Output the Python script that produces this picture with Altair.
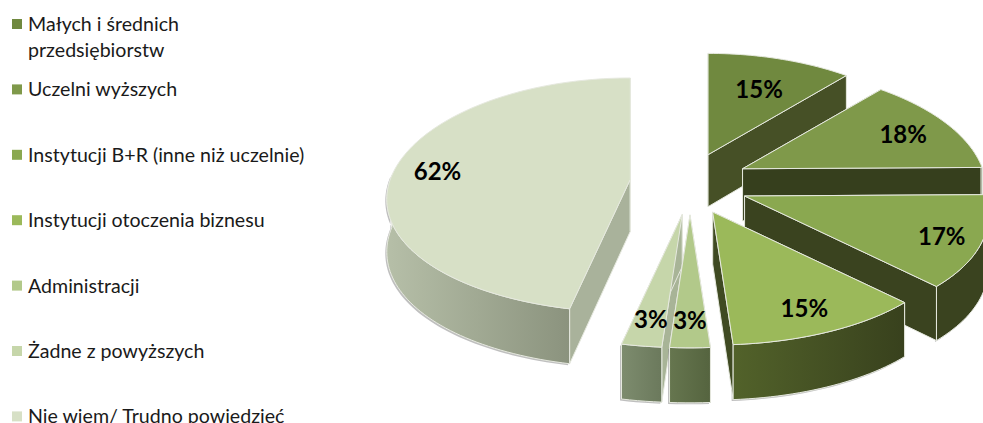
import math
import altair as alt

# Survey answers and their percentages (multiple choice, so they sum past 100)
CATEGORIES = [
    "Małych i średnich\nprzedsiębiorstw",
    "Uczelni wyższych",
    "Instytucji B+R (inne niż uczelnie)",
    "Instytucji otoczenia biznesu",
    "Administracji",
    "Żadne z powyższych",
    "Nie wiem/ Trudno powiedzieć",
]
VALUES = [15, 18, 17, 15, 3, 3, 62]

# Per-slice styling
TOP_COLORS = ["#70893f", "#7f994a", "#8aa850", "#9bb95a", "#b2c98a", "#c6d6aa", "#d7e0c6"]
LEGEND_COLORS = ["#70893f", "#7f994a", "#8aa850", "#9bb95a", "#b2c98a", "#c6d6aa", "#d7e0c6"]
CUT_COLORS = ["#465026", "#363f1d", "#3a431f", "#3f4a22", "#66764f", "#a8b497", "#a9b29b"]
RIM_STOPS = [
    ("#465026", "#465026"),
    ("#363f1d", "#363f1d"),
    ("#3a431f", "#3a431f"),
    ("#52622a", "#38411d"),
    ("#66764f", "#55643f"),
    ("#7d8c6e", "#6b795c"),
    ("#b6bfa8", "#8b937e"),
]
EXPLODE = [52, 58, 59, 55, 55, 55, 60]
LABEL_RADIUS = [0.68, 0.78, 0.84, 0.81, 0.80, 0.80, 0.82]

# Projection of the tilted pie onto the page
W, H = 983, 423
CX, CY = 690, 183
RADIUS_X, RADIUS_Y = 240, 115
PERSPECTIVE_X, PERSPECTIVE_Y = 0.17, 0.135
EXPLODE_Y = 0.58
THICKNESS = 52
LABEL_DROP = 4
EDGE = "#e6e9df"
PROJECTION = dict(type="identity", scale=1, translate=[0, 0])

total = sum(VALUES)
bounds = [0.0]
for v in VALUES:
    bounds.append(bounds[-1] + v / total * 360)


def rim_offset(angle, r=1.0):
    a = math.radians(angle)
    wx = 1 + PERSPECTIVE_X * r * math.cos(a)
    wy = 1 + PERSPECTIVE_Y * r * math.cos(a)
    return r * RADIUS_X * math.sin(a) / wx, -r * RADIUS_Y * math.cos(a) / wy


def apex(i):
    m = math.radians((bounds[i] + bounds[i + 1]) / 2)
    return (CX + EXPLODE[i] * math.sin(m), CY - EXPLODE[i] * EXPLODE_Y * math.cos(m))


def top_point(i, angle, r=1.0):
    ax, ay = apex(i)
    dx, dy = rim_offset(angle, r)
    return ax + dx, ay + dy


def drop(p, angle):
    return p[0], p[1] + THICKNESS - 3 * math.cos(math.radians(angle))


def arc_angles(a0, a1):
    n = max(2, int((a1 - a0) / 1.5))
    return [a0 + (a1 - a0) * k / n for k in range(n + 1)]


def polygon(points, fill, stroke=EDGE, width=1.0, opacity=1.0):
    ring = [list(p) for p in points] + [list(points[0])]
    feature = {
        "type": "Feature",
        "properties": {},
        "geometry": {"type": "Polygon", "coordinates": [ring]},
    }
    kw = dict(fill=fill, fillOpacity=opacity)
    if stroke:
        kw.update(stroke=stroke, strokeWidth=width)
    else:
        kw.update(strokeWidth=0)
    return alt.Chart(alt.InlineData(values=[feature])).mark_geoshape(**kw).project(**PROJECTION)


def gradient(c0, c1):
    return alt.LinearGradient(
        gradient="linear",
        x1=0, x2=1, y1=0, y2=0,
        stops=[alt.GradientStop(color=c0, offset=0), alt.GradientStop(color=c1, offset=1)],
    )


def slice_layers(i):
    a0, a1 = bounds[i], bounds[i + 1]
    ap = apex(i)
    layers = []
    rim_from, rim_to = max(a0, 88), min(a1, 272)
    rim_pts = None
    if rim_to > rim_from:
        angles = arc_angles(rim_from, rim_to)
        upper = [top_point(i, a) for a in angles]
        lower = [drop(p, a) for p, a in zip(upper, angles)]
        rim_pts = upper + lower[::-1]
        # soft contact shadow under the front wall
        shadow = [(x - 1.5, y + 1.5) for x, y in rim_pts]
        layers.append(polygon(shadow, "#8a8a8a", stroke=None, opacity=0.55))
    for a in (a0, a1):
        c = top_point(i, a)
        face = [ap, c, drop(c, a), drop(ap, 90)]
        if i in (0, 6) and a in (0.0, bounds[7]):
            layers.append(polygon([(x + 1, y + 1) for x, y in face], "#9a9a9a", stroke=None))
        layers.append(polygon(face, CUT_COLORS[i]))
    if rim_pts:
        layers.append(polygon(rim_pts, gradient(*RIM_STOPS[i])))
    outline = [ap] + [top_point(i, a) for a in arc_angles(a0, a1)]
    layers.append(polygon(outline, TOP_COLORS[i]))
    return layers


layers = []
for i in (0, 1, 2, 6, 5, 4, 3):
    layers.extend(slice_layers(i))

# Percentage labels sit inside each top face
percent_rows = []
for i, v in enumerate(VALUES):
    mid = (bounds[i] + bounds[i + 1]) / 2
    x, y = top_point(i, mid, LABEL_RADIUS[i])
    percent_rows.append({"lon": x, "lat": y + LABEL_DROP, "label": f"{v}%"})
layers.append(
    alt.Chart(alt.InlineData(values=percent_rows))
    .mark_text(font="Lato", fontSize=24, fontWeight="bold", color="#000000")
    .encode(longitude="lon:Q", latitude="lat:Q", text="label:N")
    .project(**PROJECTION)
)

# Legend column down the left side
ROW_START, ROW_STEP = 24, 65.4
legend_rows = [
    {"lon": 17, "lat": ROW_START + k * ROW_STEP, "txt_lon": 28, "txt_lat": ROW_START + k * ROW_STEP - 8,
     "label": name.split("\n"), "color": LEGEND_COLORS[k]}
    for k, name in enumerate(CATEGORIES)
]
layers.append(
    alt.Chart(alt.InlineData(values=legend_rows))
    .mark_point(shape="square", size=100, filled=True, opacity=1)
    .encode(longitude="lon:Q", latitude="lat:Q", color=alt.Color("color:N", scale=None, legend=None))
    .project(**PROJECTION)
)
layers.append(
    alt.Chart(alt.InlineData(values=legend_rows))
    .mark_text(font="Lato", fontSize=19.6, color="#1a1a1a", align="left", baseline="top", lineHeight=26)
    .encode(longitude="txt_lon:Q", latitude="txt_lat:Q", text="label:N")
    .project(**PROJECTION)
)

chart = (
    alt.layer(*layers)
    .properties(width=W, height=H, padding=0, autosize=alt.AutoSizeParams(type="none"))
    .configure_view(stroke=None)
)
chart.save("out.html", embed_options={"renderer": "svg", "actions": False})
